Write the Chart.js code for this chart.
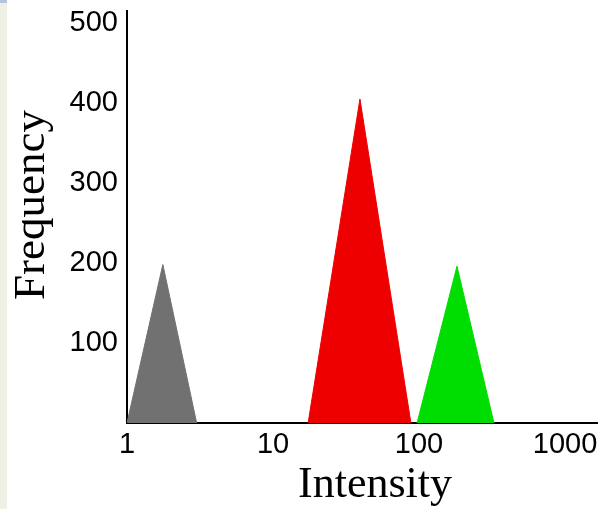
<!DOCTYPE html>
<html>
<head>
<meta charset="utf-8">
<style>
  html, body { margin: 0; padding: 0; background: #fff; overflow: hidden; }
  #wrap { width: 615px; height: 509px; }
</style>
<script src="https://cdn.jsdelivr.net/npm/chart.js@4/dist/chart.umd.min.js"></script>
</head>
<body>
<div id="wrap"><canvas id="c" width="615" height="509"></canvas></div>
<script>
// Tick positions on both axes
const xTicks = [1, 10, 100, 1000];
const yTicks = [100, 200, 300, 400, 500];

// Three triangular peaks: intensity (x) and frequency (y)
const grayX  = [1, 1.76, 3.0];
const grayY  = [0, 198, 0];
const redX   = [17.4, 39.4, 88];
const redY   = [0, 405, 0];
const greenX = [97, 182, 326];
const greenY = [0, 196, 0];

const toPoints = (xs, ys) => xs.map((x, i) => ({ x: x, y: ys[i] }));

const tickFont = { family: '"Liberation Sans", Arial, sans-serif', size: 29 };

function peak(xs, ys, color) {
  return {
    data: toPoints(xs, ys),
    backgroundColor: color,
    borderColor: color,
    borderWidth: 1,
    fill: 'origin',
    pointRadius: 0,
    tension: 0
  };
}

// Side strip and axis titles
const decorations = {
  id: 'decorations',
  beforeDraw(chart) {
    const ctx = chart.ctx;
    ctx.save();
    ctx.fillStyle = '#f0f0e4';
    ctx.fillRect(0, 0, 7, 509);
    ctx.fillStyle = '#b4c4e0';
    ctx.fillRect(0, 0, 7, 3);
    ctx.restore();
  },
  afterDraw(chart) {
    const ctx = chart.ctx;
    ctx.save();
    ctx.fillStyle = '#000';
    ctx.textAlign = 'center';
    ctx.textBaseline = 'alphabetic';
    ctx.font = '44px "Liberation Serif", "Times New Roman", serif';
    ctx.fillText('Intensity', 375, 497);
    ctx.translate(44, 205);
    ctx.rotate(-Math.PI / 2);
    ctx.font = '45px "Liberation Serif", "Times New Roman", serif';
    ctx.fillText('Frequency', 0, 0);
    ctx.restore();
  }
};

// Keep the plot area fixed regardless of tick label overhang
function noOverhang(s) {
  s.paddingTop = 0;
  s.paddingBottom = 0;
  s.paddingLeft = 0;
  s.paddingRight = 0;
}

new Chart(document.getElementById('c'), {
  type: 'line',
  data: {
    datasets: [
      peak(grayX, grayY, '#717171'),
      peak(redX, redY, '#ee0000'),
      peak(greenX, greenY, '#00dd00')
    ]
  },
  options: {
    responsive: false,
    devicePixelRatio: 1,
    animation: false,
    layout: { padding: { top: 11, right: 18, left: 0, bottom: 0 } },
    plugins: { legend: { display: false }, tooltip: { enabled: false } },
    scales: {
      x: {
        type: 'logarithmic',
        min: 1,
        max: 1656,
        grid: { display: false, drawTicks: false },
        border: { display: true, color: '#000', width: 2 },
        ticks: {
          font: tickFont,
          color: '#000',
          padding: 5,
          autoSkip: false,
          maxRotation: 0,
          callback: v => String(v)
        },
        afterBuildTicks: s => { s.ticks = xTicks.map(v => ({ value: v })); },
        afterFit: s => { s.height = 86; noOverhang(s); }
      },
      y: {
        min: 0,
        max: 515,
        grid: { display: false, drawTicks: false },
        border: { display: true, color: '#000', width: 2 },
        ticks: {
          font: tickFont,
          color: '#000',
          padding: 9,
          callback: v => String(v)
        },
        afterBuildTicks: s => { s.ticks = yTicks.map(v => ({ value: v })); },
        afterFit: s => { s.width = 127; noOverhang(s); }
      }
    }
  },
  plugins: [decorations]
});
</script>
</body>
</html>
